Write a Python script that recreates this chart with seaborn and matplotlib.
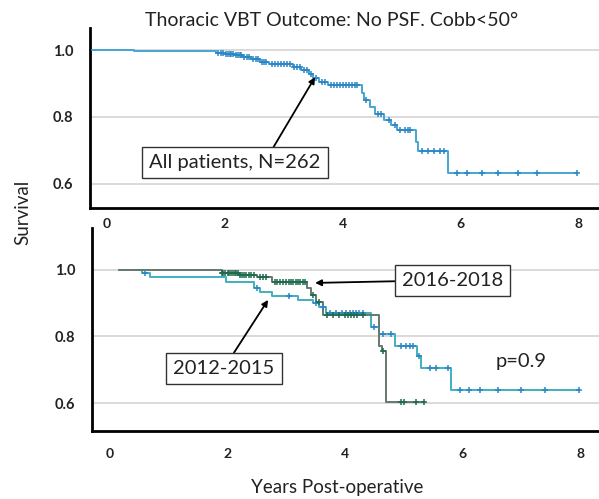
import numpy as np
import pandas as pd
import matplotlib
matplotlib.use("Agg")
import matplotlib.pyplot as plt
import seaborn as sns

# ---------------- data ----------------
title = "Thoracic VBT Outcome: No PSF. Cobb<50°"
x_ticks = [0, 2, 4, 6, 8]
y_ticks = [0.6, 0.8, 1.0]

# All patients (top panel)
all_t = [-0.25, 0.45, 1.85, 2.0, 2.15, 2.3, 2.45, 2.6, 2.75, 3.15, 3.3, 3.42, 3.5, 3.6, 3.75,
         4.33, 4.36, 4.47, 4.55, 4.7, 4.82, 4.92, 5.24, 5.28, 5.78]
all_s = [1.0, 0.996, 0.992, 0.988, 0.984, 0.978, 0.972, 0.965, 0.957, 0.948, 0.94, 0.93, 0.918, 0.906, 0.897,
         0.872, 0.851, 0.83, 0.808, 0.792, 0.775, 0.76, 0.726, 0.697, 0.632]
all_end = 7.97
all_cens = [1.88, 1.93, 1.97, 2.02, 2.05, 2.08, 2.11, 2.14, 2.18, 2.22, 2.25, 2.28, 2.33, 2.37, 2.41,
            2.48, 2.52, 2.56, 2.63, 2.67, 2.7, 2.8, 2.85, 2.9, 2.95, 3.0, 3.05, 3.1, 3.18, 3.22, 3.27,
            3.35, 3.4, 3.46, 3.55, 3.65, 3.7, 3.8, 3.85, 3.9, 3.95, 4.0, 4.05, 4.1, 4.15, 4.2, 4.25,
            4.4, 4.6, 4.65, 4.78, 4.88, 4.98, 5.05, 5.1, 5.15, 5.35, 5.45, 5.55, 5.65, 5.72,
            5.94, 6.11, 6.37, 6.64, 6.98, 7.30, 7.97]

# 2012-2015 cohort (bottom panel)
c12_t = [0.15, 0.55, 0.68, 1.97, 2.45, 2.55, 2.75, 3.2, 3.45, 3.55, 3.68, 4.44, 4.57, 4.85, 5.22, 5.3, 5.8]
c12_s = [1.0, 0.99, 0.978, 0.965, 0.945, 0.935, 0.922, 0.91, 0.9, 0.89, 0.872, 0.83, 0.806, 0.77, 0.74, 0.706, 0.64]
c12_end = 7.98
c12_cens = [0.6, 2.5, 3.05, 3.5, 3.62, 3.75, 3.85, 3.95, 4.02, 4.08, 4.13, 4.18, 4.23, 4.3, 4.5, 4.65,
            4.78, 4.95, 5.03, 5.1, 5.16, 5.25, 5.45, 5.55, 5.75, 5.95, 6.1, 6.3, 6.6, 7.0, 7.4, 7.98]

# 2016-2018 cohort (bottom panel)
c16_t = [0.15, 1.9, 2.2, 2.5, 2.75, 3.35, 3.42, 3.5, 3.62, 4.57, 4.63, 4.7]
c16_s = [1.0, 0.99, 0.985, 0.978, 0.965, 0.945, 0.925, 0.905, 0.864, 0.77, 0.755, 0.603]
c16_end = 5.35
c16_cens = [1.9, 1.93, 1.96, 2.0, 2.03, 2.06, 2.09, 2.12, 2.15, 2.18, 2.21, 2.25, 2.28, 2.32, 2.36, 2.4,
            2.45, 2.55, 2.6, 2.65, 2.8, 2.85, 2.9, 2.95, 3.0, 3.04, 3.08, 3.12, 3.16, 3.2, 3.24, 3.28,
            3.32, 3.45, 3.55, 3.7, 3.8, 3.9, 4.0, 4.05, 4.1, 4.15, 4.2, 4.3, 4.65, 4.95, 5.0, 5.2, 5.35]

label_all = "All patients, N=262"
label_16 = "2016-2018"
label_12 = "2012-2015"
p_text = "p=0.9"

# ---------------- style ----------------
sns.set_theme(style="white")
plt.rcParams["font.family"] = ["Lato", "DejaVu Sans"]
TXT = "#222222"

fig = plt.figure(figsize=(5.99, 4.99), dpi=100)
ax1 = fig.add_axes([90 / 599, 1 - 208 / 499, 1 - 90 / 599, (208 - 28) / 499])
ax2 = fig.add_axes([92 / 599, 1 - 431 / 499, 1 - 92 / 599, (431 - 228) / 499])


def step_df(t, s, end):
    return pd.DataFrame({"t": list(t) + [end], "s": list(s) + [s[-1]]})


def surv_at(t, s, times):
    idx = np.searchsorted(np.asarray(t), np.asarray(times), side="right") - 1
    return np.asarray(s)[np.clip(idx, 0, len(s) - 1)]


def draw_curve(ax, t, s, end, cens, line_col, mark_col, lw=1.4):
    df = step_df(t, s, end)
    sns.lineplot(data=df, x="t", y="s", drawstyle="steps-post", sort=False, estimator=None,
                 color=line_col, lw=lw, ax=ax, zorder=3)
    cdf = pd.DataFrame({"t": cens, "s": surv_at(t, s, cens)})
    sns.scatterplot(data=cdf, x="t", y="s", marker="+", s=16, linewidth=1.1,
                    color=mark_col, ax=ax, zorder=4)


def style_axes(ax, xlim, ylim, xpad, ypad):
    ax.set_xlim(*xlim)
    ax.set_ylim(*ylim)
    ax.set_xticks(x_ticks)
    ax.set_yticks(y_ticks)
    ax.set_yticklabels([f"{v:.1f}" for v in y_ticks])
    for v in y_ticks:
        ax.axhline(v, color="#d4d4d4", lw=1.2, zorder=1)
    for sp in ["top", "right"]:
        ax.spines[sp].set_visible(False)
    for sp in ["left", "bottom"]:
        ax.spines[sp].set_color("black")
        ax.spines[sp].set_linewidth(2.0)
    ax.tick_params(axis="x", length=0, pad=xpad, labelsize=10, colors=TXT)
    ax.tick_params(axis="y", length=0, pad=ypad, labelsize=10.5, colors=TXT)
    for lab in ax.get_xticklabels() + ax.get_yticklabels():
        lab.set_fontweight("bold")
    ax.set_xlabel("")
    ax.set_ylabel("")
    ax.set_facecolor("white")


# ---- top panel ----
draw_curve(ax1, all_t, all_s, all_end, all_cens, "#45a6d2", "#2a86c6")
style_axes(ax1, (-0.29, 8.35), (0.528, 1.066), 7, 12)

box = dict(boxstyle="square,pad=0.35", fc="white", ec="#333333", lw=1.0)
ax1.annotate(label_all, xy=(3.53, 0.919), xytext=(2.17, 0.663), fontsize=14.5, color=TXT,
             ha="center", va="center", bbox=box, zorder=6,
             arrowprops=dict(arrowstyle="-|>", color="black", lw=1.3, mutation_scale=9,
                             shrinkA=0, shrinkB=0, relpos=(0.7, 1.0)))

# ---- bottom panel ----
draw_curve(ax2, c12_t, c12_s, c12_end, c12_cens, "#3fb0bf", "#2a86c6")
draw_curve(ax2, c16_t, c16_s, c16_end, c16_cens, "#66786c", "#1e6a4c")
style_axes(ax2, (-0.306, 8.32), (0.516, 1.126), 12, 12)

ax2.annotate(label_16, xy=(3.49, 0.961), xytext=(5.83, 0.969), fontsize=14.5, color=TXT,
             ha="center", va="center", bbox=box, zorder=6,
             arrowprops=dict(arrowstyle="-|>", color="black", lw=1.3, mutation_scale=9,
                             shrinkA=0, shrinkB=0, relpos=(0.0, 0.45)))
ax2.annotate(label_12, xy=(2.69, 0.91), xytext=(1.94, 0.703), fontsize=14.5, color=TXT,
             ha="center", va="center", bbox=box, zorder=6,
             arrowprops=dict(arrowstyle="-|>", color="black", lw=1.3, mutation_scale=9,
                             shrinkA=0, shrinkB=0, relpos=(0.55, 1.0)))
ax2.text(7.0, 0.724, p_text, fontsize=14.5, color=TXT, ha="center", va="center")

# ---- figure texts ----
fig.text(332 / 599, 1 - 20 / 499, title, fontsize=14, color=TXT, ha="center", va="center")
fig.text(23 / 599, 1 - 212 / 499, "Survival", fontsize=13.5, color=TXT, ha="center", va="center",
         rotation=90)
fig.text(337 / 599, 1 - 487 / 499, "Years Post-operative", fontsize=13.5, color=TXT,
         ha="center", va="center")

fig.savefig("out.png", dpi=100, facecolor="white")
